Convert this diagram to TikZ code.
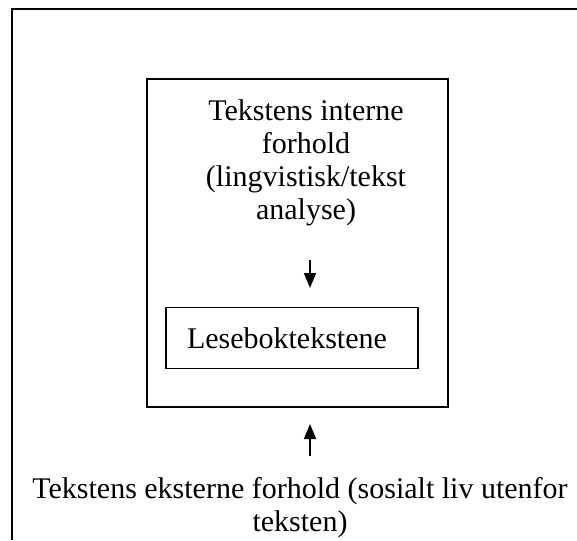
\documentclass[tikz,border=0pt]{standalone}
\usepackage{fontspec}
\setmainfont{Liberation Serif}
\usetikzlibrary{arrows.meta}
\begin{document}
\begin{tikzpicture}[x=1pt, y=-1pt,
		tekst/.style={font=\fontsize{30}{33}\selectfont, align=center, inner sep=0pt},
		boks/.style={draw, line width=2.2pt, inner sep=0pt},
		pil/.style={line width=1.8pt, -{Triangle[length=15pt, width=12pt]}}]
	\useasboundingbox (0,0) rectangle (577,540);
	\draw[line width=2.2pt] (577,9) -- (12,9) -- (12,540);
	\node[boks, minimum width=301pt, minimum height=328pt] (intern) at (297.5,243) {};
	\node[tekst] (interntekst) at (306,163) {Tekstens interne\\forhold\\(lingvistisk/tekst\\analyse)};
	\node[boks, line width=1.6pt, tekst, text width=210pt, align=left, minimum width=252pt, minimum height=61pt] (lesebok) at (292,338) {Leseboktekstene};
	\coordinate (ned1) at (310,260);
	\coordinate (ned2) at (310,288);
	\draw[pil] (ned1) -- (ned2);
	\coordinate (opp1) at (310,456);
	\coordinate (opp2) at (310,424);
	\draw[pil] (opp1) -- (opp2);
	\node[tekst] (ekstern) at (300,508) {Tekstens eksterne forhold (sosialt liv utenfor\\teksten)};
\end{tikzpicture}
\end{document}
